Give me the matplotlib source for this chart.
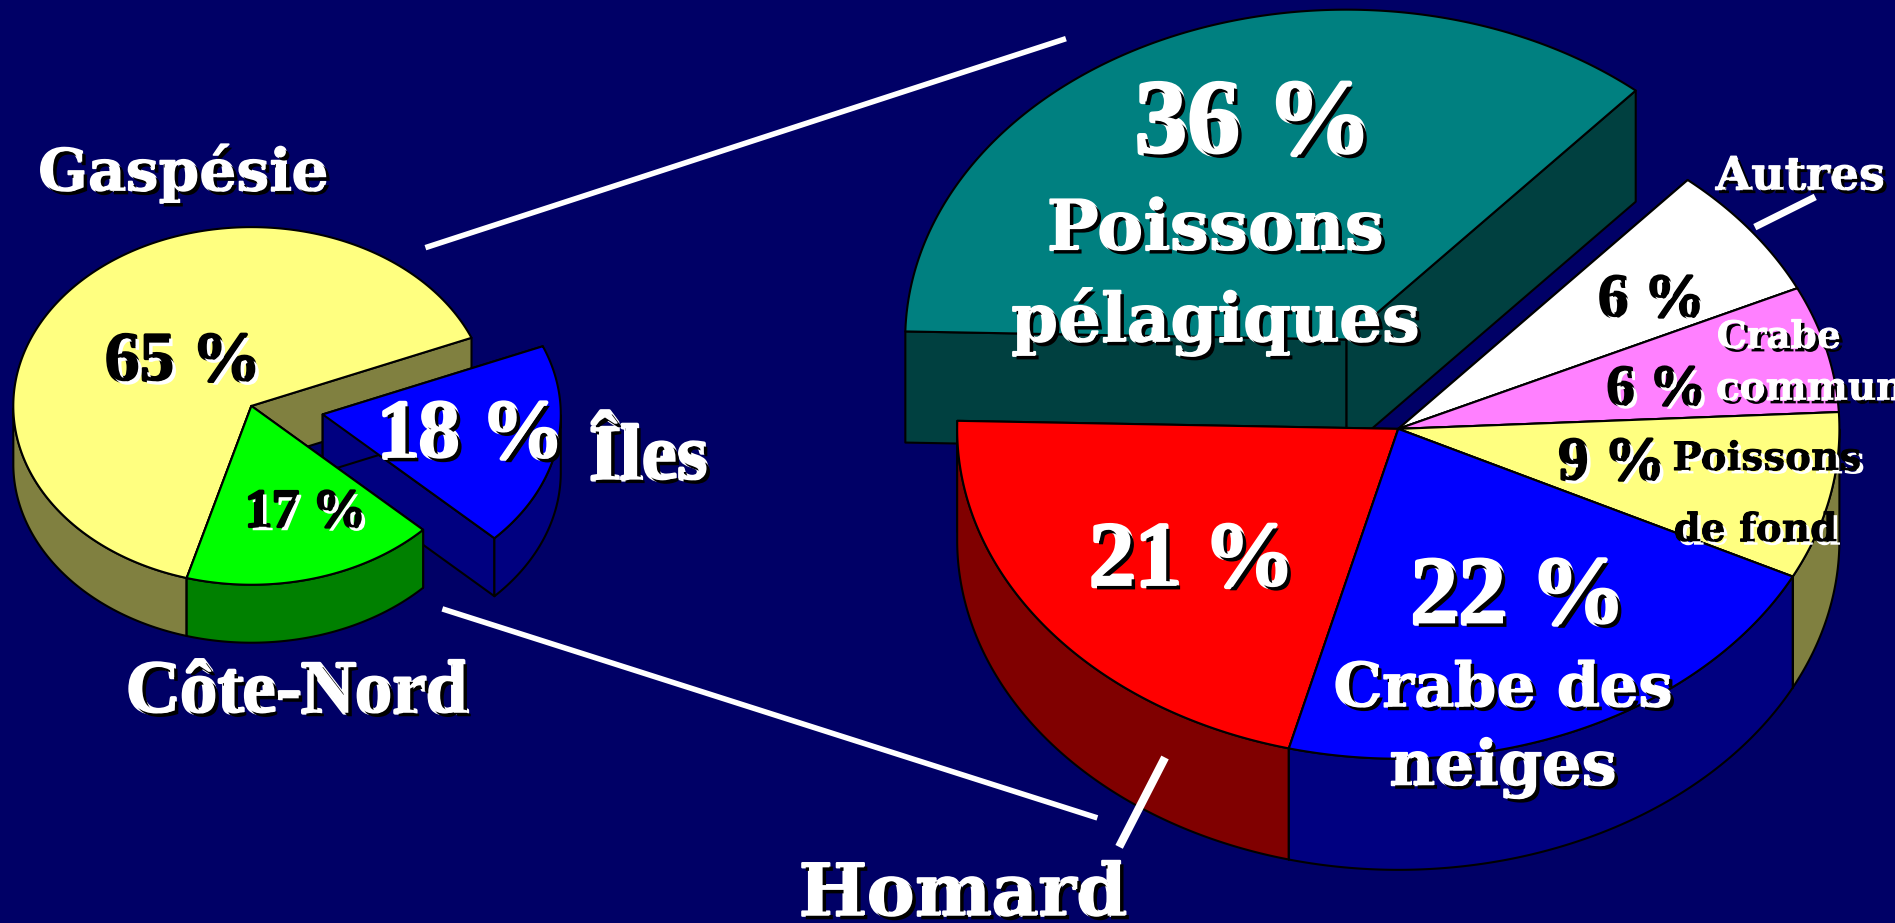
import numpy as np
import matplotlib
matplotlib.use('Agg')
import matplotlib.pyplot as plt
import matplotlib.patheffects as pe
from matplotlib.patches import Polygon

# left pie: regions, slice sizes as drawn (the printed labels are rounded)
left_labels = ['Gaspésie', 'Côte-Nord', 'Îles']
left_values = [64.4, 17.2, 18.4]
left_top = ['#FFFF80', '#00FF00', '#0000FF']
left_side = ['#808040', '#008000', '#000080']

# right pie: catches
right_labels = ['Poissons pélagiques', 'Homard', 'Crabe des neiges', 'Poissons de fond', 'Crabe commun', 'Autres']
right_values = [36.0, 21.4, 21.6, 8.2, 6.2, 6.6]
right_top = ['#008080', '#FF0000', '#0000FF', '#FFFF80', '#FF80FF', '#FFFFFF']
right_side = ['#004040', '#800000', '#000080', '#808040', '#804080', '#808080']

BG = '#000066'
FONT = 'Liberation Serif'
WIDE = 'DejaVu Serif'

fig = plt.figure(figsize=(18.95, 9.23), dpi=100, facecolor=BG)
ax = fig.add_axes([0, 0, 1, 1])
ax.set_xlim(0, 1568)
ax.set_ylim(764, 0)
ax.axis('off')


def pt(cx, cy, rx, ry, t):
    t = np.radians(t)
    return cx + rx * np.cos(t), cy - ry * np.sin(t)


def wedge(cx, cy, rx, ry, depth, t0, t1, top, side, z):
    ts = np.linspace(t0, t1, 200)
    x, y = pt(cx, cy, rx, ry, ts)
    # the two cut faces
    for i in (0, -1):
        face = [(cx, cy), (x[i], y[i]), (x[i], y[i] + depth), (cx, cy + depth)]
        ax.add_patch(Polygon(face, fc=side, ec='k', lw=1.5, zorder=z, joinstyle='round'))
    # outer wall, lower half of the rim only
    low = np.sin(np.radians(ts)) < 0
    if low.any():
        xl, yl = x[low], y[low]
        wall = np.r_[np.c_[xl, yl], np.c_[xl[::-1], yl[::-1] + depth]]
        ax.add_patch(Polygon(wall, fc=side, ec='k', lw=1.5, zorder=z + 0.1, joinstyle='round'))
    rim = np.r_[[[cx, cy]], np.c_[x, y]]
    ax.add_patch(Polygon(rim, fc=top, ec='k', lw=1.5, zorder=z + 0.2, joinstyle='round'))


def label(x, y, s, size, color='white', ha='center', font=FONT):
    shadow = 'black' if color == 'white' else 'white'
    heavy = 0.05 if font == FONT else 0.03
    ax.text(x, y, s, fontsize=size, color=color, family=font, weight='bold',
            ha=ha, va='baseline', zorder=20,
            path_effects=[pe.withStroke(linewidth=size * heavy, foreground=color),
                          pe.withSimplePatchShadow(offset=(2.5, -2.5), shadow_rgbFace=shadow, alpha=1)])


# left pie, Iles is pulled out and sits behind Cote-Nord
start = 22.4
edges = start + np.r_[0, np.cumsum(left_values)] * 3.6
wedge(208, 336, 197, 148, 48, edges[0], edges[1], left_top[0], left_side[0], 1)
wedge(267, 343, 197, 148, 48, edges[2], edges[3], left_top[2], left_side[2], 2)
wedge(208, 336, 197, 148, 48, edges[1], edges[2], left_top[1], left_side[1], 3)

# right pie, the first slice is pulled out, drawn back to front
start = 49
edges = start + np.r_[0, np.cumsum(right_values)] * 3.6
wedge(1114, 281, 365, 273, 92, edges[0], edges[1], right_top[0], right_side[0], 4)
for z, i in enumerate([5, 4, 3, 1, 2]):
    wedge(1157, 355, 365, 273, 92, edges[i], edges[i + 1], right_top[i], right_side[i], 5 + z)

# connector lines
ax.plot([352, 882], [205, 32], color='white', lw=4, solid_capstyle='butt', zorder=15)
ax.plot([366, 908], [504, 677], color='white', lw=4, solid_capstyle='butt', zorder=15)
ax.plot([964, 926], [627, 701], color='white', lw=6, solid_capstyle='butt', zorder=15)
ax.plot([1452, 1502], [188, 163], color='white', lw=5, solid_capstyle='butt', zorder=15)

# left text
label(152, 158, 'Gaspésie', 42, font=WIDE)
label(152, 315, '65 %', 50, 'black')
label(390, 379, '18 %', 60)
label(537, 397, 'Îles', 57)
label(253, 436, '17 %', 39, 'black')
label(246, 590, 'Côte-Nord', 54)

# right text
label(1038, 127, '36 %', 76)
label(1006, 207, 'Poissons', 50, font=WIDE)
label(1006, 283, 'pélagiques', 48.5, font=WIDE)
label(1490, 157, 'Autres', 33, font=WIDE)
label(1367, 262, '6 %', 44, 'black')
label(1472, 288, 'Crabe', 27, font=WIDE)
label(1420, 331, 'commun', 28, ha='left', font=WIDE)
label(1371, 335, '6 %', 41, 'black')
label(1334, 397, '9 %', 44, 'black')
label(1384, 389, 'Poissons', 28, 'black', ha='left', font=WIDE)
label(1385, 448, 'de fond', 28, 'black', ha='left', font=WIDE)
label(987, 485, '21 %', 66)
label(1257, 516, '22 %', 69)
label(1244, 585, 'Crabe des', 44, font=WIDE)
label(1244, 650, 'neiges', 45, font=WIDE)
label(797, 758, 'Homard', 52, font=WIDE)

fig.savefig('out.png', dpi=100, facecolor=BG)
